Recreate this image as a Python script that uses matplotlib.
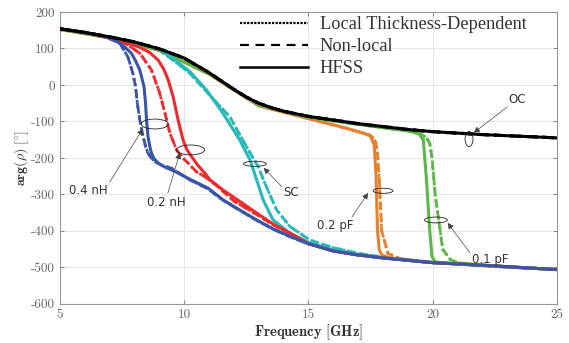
import matplotlib
matplotlib.use("Agg")
import matplotlib.pyplot as plt
from matplotlib.patches import Ellipse
from matplotlib.lines import Line2D

plt.rcParams["mathtext.fontset"] = "cm"
plt.rcParams["axes.unicode_minus"] = False

# --- data ---
# OC: all three models lie on top of each other
oc_f = [5, 6, 7, 8, 9, 10, 11, 12, 12.5, 13, 13.5, 14, 15, 16, 17, 18, 19, 20, 21, 22, 23, 24, 25]
oc_v = [154, 144, 132, 118, 99, 74, 34, -12, -33, -50, -62, -72, -86, -96, -106, -114, -122, -128,
        -132, -136, -139, -142, -145]

# tail shared by the loaded curves at high frequency
tail_f = [15, 16, 17, 18, 20, 22, 25]
tail_v = [-435, -455, -466, -474, -487, -494, -506]

# 0.4 nH (blue)
l04_hf_f = [5, 6, 6.6, 7.21, 7.55, 7.88, 8.05, 8.22, 8.39, 8.45, 8.49, 8.55, 8.62, 8.69, 8.8, 8.96, 9.2,
            9.63, 10.23, 10.97, 11.57, 12.3, 12.92, 13.6, 14.26] + tail_f
l04_hf_v = [154, 144, 137, 123, 108, 87, 66, 41, -5, -50, -96, -141, -168, -187, -203, -214, -224,
            -237, -258, -283, -315, -345, -370, -395, -415] + tail_v
l04_md_f = [5, 6, 6.6, 7.0, 7.41, 7.74, 7.94, 8.05, 8.12, 8.22, 8.35, 8.45, 8.55, 8.68, 8.82, 9.1,
            9.49, 10.23, 10.97, 11.57, 12.3, 12.92, 13.6, 14.26] + tail_f
l04_md_v = [154, 144, 137, 127, 115, 77, 32, -5, -50, -96, -141, -168, -187, -200, -210, -220,
            -228, -260, -285, -316, -346, -371, -396, -416] + tail_v

# 0.2 nH (red)
l02_hf_f = [5, 6, 7, 7.6, 8.15, 8.6, 8.96, 9.18, 9.36, 9.56, 9.76, 9.96, 10.12, 10.3, 10.55, 10.83,
            11.04, 11.57, 12.3, 12.92, 13.6, 14.26] + tail_f
l02_hf_v = [154, 144, 129, 117, 105, 90, 68, 44, 14, -32, -96, -151, -178, -196, -220, -241,
            -260, -288, -322, -351, -382, -406] + tail_v
l02_md_f = [5, 6, 7, 7.6, 8.22, 8.69, 9.02, 9.23, 9.43, 9.7, 9.95, 10.16, 10.5, 10.83, 11.3, 12,
            12.92, 13.6, 14.26] + tail_f
l02_md_v = [154, 144, 129, 116, 87, 41, -22, -77, -132, -178, -200, -214, -238, -251, -275, -318,
            -355, -384, -407] + tail_v

# SC (cyan)
sc_hf_f = [5, 7, 8.15, 9, 9.6, 10.23, 10.9, 11.57, 12.24, 12.65, 12.92, 13.18, 13.58, 14.26, 15.06,
           16, 17, 18, 20, 22, 25]
sc_hf_v = [154, 131, 115, 98, 70, 37, -14, -78, -151, -205, -260, -315, -370, -406, -433,
           -452, -464, -474, -487, -494, -506]
sc_md_f = [5, 7, 8.15, 9, 9.6, 10.23, 10.9, 11.84, 12.51, 12.98, 13.31, 13.72, 14.26, 15.06,
           16, 17, 18, 20, 22, 25]
sc_md_v = [154, 131, 114, 95, 66, 32, -18, -87, -169, -224, -279, -342, -388, -425,
           -446, -461, -472, -486, -494, -506]

# 0.2 pF (orange)
c02_hf_f = [5, 7, 9, 11, 13, 15, 16.5, 17.2, 17.5, 17.65, 17.72, 17.78, 17.85, 17.95, 18.2, 18.7,
            19.5, 21, 23, 25]
c02_hf_v = [152, 129, 95, 30, -57, -92, -118, -132, -140, -165, -250, -400, -452, -466, -472, -479,
            -484, -491, -499, -506]
c02_md_f = c02_hf_f
c02_md_v = [152, 129, 95, 30, -57, -92, -118, -132, -138, -148, -160, -190, -260, -400, -462, -476,
            -483, -491, -499, -506]

# 0.1 pF (green)
c01_hf_f = [5, 7, 9, 11, 13, 15, 17, 19, 19.45, 19.62, 19.75, 19.88, 19.97, 20.1, 20.4, 20.7, 21,
            23, 25]
c01_hf_v = [153, 130, 96, 31, -55, -89, -108, -126, -134, -150, -260, -400, -470, -485, -487, -488,
            -490, -499, -506]
c01_md_f = c01_hf_f
c01_md_v = [153, 130, 96, 31, -55, -89, -108, -126, -133, -138, -145, -160, -200, -300, -450, -478,
            -487, -499, -506]

cases = [
    (c02_hf_f, c02_hf_v, c02_md_f, c02_md_v, "#e4812d"),
    (c01_hf_f, c01_hf_v, c01_md_f, c01_md_v, "#5bb748"),
    (sc_hf_f, sc_hf_v, sc_md_f, sc_md_v, "#27b9b9"),
    (l02_hf_f, l02_hf_v, l02_md_f, l02_md_v, "#ec2b2e"),
    (l04_hf_f, l04_hf_v, l04_md_f, l04_md_v, "#3b55a6"),
]

legend_labels = ["Local Thickness-Dependent", "Non-local", "HFSS"]

fig, ax = plt.subplots(figsize=(5.69, 3.43), dpi=100)
fig.subplots_adjust(left=0.105, right=0.979, bottom=0.114, top=0.965)

for hf, hv, mf, mv, col in cases:
    ax.plot(mf, mv, color=col, lw=2.0, ls=(0, (3, 1.5)), zorder=2)
    ax.plot(mf, mv, color=col, lw=2.0, ls=(0, (1, 1)), zorder=2)
    ax.plot(hf, hv, color=col, lw=2.2, ls="-", zorder=3)

ax.plot(oc_f, oc_v, color="black", lw=2.2, ls=":", zorder=4)
ax.plot(oc_f, oc_v, color="black", lw=2.2, ls="--", zorder=4)
ax.plot(oc_f, oc_v, color="black", lw=2.2, ls="-", zorder=4)

# ellipses + arrows
ann_gray = "#444444"
ellipses = [
    ((8.82, -107), 1.09, 27),
    ((10.26, -178), 1.13, 27),
    ((12.85, -216), 0.92, 14),
    ((21.46, -148), 0.32, 41),
    ((18.0, -290), 0.80, 14),
    ((20.13, -370), 0.92, 16),
]
for c, w, h in ellipses:
    ax.add_patch(Ellipse(c, w, h, fill=False, ec="#222222", lw=0.6, zorder=6))

arrows = [
    ("0.4 nH", (8.34, -120), (7.01, -266), (6.13, -288)),
    ("0.2 nH", (9.83, -186), (9.35, -296), (9.27, -323)),
    ("SC", (13.2, -227), (13.93, -279), (14.3, -296)),
    ("OC", (21.65, -131), (23.0, -60), (23.4, -41)),
    ("0.2 pF", (17.4, -296), (16.75, -362), (16.07, -386)),
    ("0.1 pF", (20.6, -378), (21.5, -460), (22.3, -479)),
]
for txt, head, tail, pos in arrows:
    ax.annotate("", xy=head, xytext=tail,
                arrowprops=dict(arrowstyle="-|>", lw=0.5, color=ann_gray,
                                mutation_scale=9, shrinkA=0, shrinkB=0),
                zorder=7)
    ax.text(pos[0], pos[1], txt, ha="center", va="center", fontsize=8.5,
            color="#333333", family="DejaVu Sans", zorder=7)

ax.set_xlim(5, 25)
ax.set_ylim(-600, 200)
ax.set_xticks([5, 10, 15, 20, 25])
ax.set_yticks(range(-600, 201, 100))
ax.grid(True, color="#e6e6e6", lw=0.7)
ax.set_axisbelow(True)
ax.tick_params(direction="in", length=3, labelsize=9.5, colors="#888888",
               labelcolor="#666666", top=True, right=True)
for lbl in ax.get_xticklabels() + ax.get_yticklabels():
    lbl.set_family("cmr10")
for s in ax.spines.values():
    s.set_color("#999999")
    s.set_linewidth(0.8)

ax.set_xlabel(r"$\mathbf{Frequency\ [GHz]}$", fontsize=10.5, color="#333333", labelpad=1)
ax.set_ylabel(r"$\mathbf{arg}(\rho)\ [^{\circ}]$", fontsize=10, color="#333333", labelpad=0)

handles = [Line2D([], [], color="black", lw=1.6, ls=(0, (1, 0.6))),
           Line2D([], [], color="black", lw=1.6, ls=(0, (4, 3))),
           Line2D([], [], color="black", lw=1.8, ls="-")]
leg = ax.legend(handles, legend_labels, loc="upper left",
                bbox_to_anchor=(0.362, 0.985), frameon=False, borderpad=0,
                borderaxespad=0,
                prop={"family": "Liberation Serif", "size": 13.2},
                handlelength=3.7, handletextpad=0.65, labelspacing=0.27)
for t in leg.get_texts():
    t.set_color("#333333")

fig.savefig("out.png", dpi=100)
